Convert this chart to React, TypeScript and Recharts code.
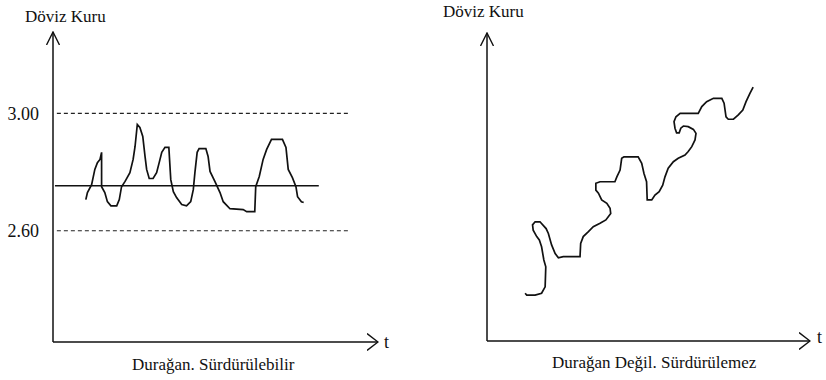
import { LineChart, Line, XAxis, YAxis, ReferenceLine, Label } from 'recharts';

// left panel: stationary rate oscillating around its mean
const stableT = [
  10.2, 10.7, 12.0, 13.0, 13.8, 14.6, 15.1, 15.1, 16.1, 16.9, 18.0, 19.8, 20.6, 21.3, 22.4, 23.9,
  24.9, 25.5, 26.2, 27.0, 27.9, 28.6, 29.1, 29.9, 31.1, 32.2, 33.0, 33.8, 34.8, 36.0, 36.6, 37.4,
  38.4, 40.0, 41.5, 42.8, 43.6, 44.1, 44.8, 45.4, 47.5, 48.2, 48.8, 50.3, 51.9, 52.9, 55.0, 59.1,
  60.2, 62.7, 63.0, 64.1, 65.3, 66.4, 67.9, 71.3, 72.4, 73.1, 74.4, 75.5, 76.0, 77.2, 77.9,
];
const stableRate = [
  2.706, 2.73, 2.757, 2.809, 2.832, 2.843, 2.867, 2.75, 2.73, 2.699, 2.685, 2.685, 2.706, 2.75,
  2.768, 2.798, 2.843, 2.887, 2.962, 2.952, 2.921, 2.853, 2.809, 2.778, 2.778, 2.798, 2.832, 2.867,
  2.884, 2.884, 2.774, 2.733, 2.713, 2.689, 2.685, 2.699, 2.74, 2.798, 2.867, 2.88, 2.88, 2.853,
  2.802, 2.768, 2.73, 2.699, 2.675, 2.672, 2.665, 2.665, 2.75, 2.785, 2.843, 2.877, 2.911, 2.911,
  2.884, 2.809, 2.781, 2.75, 2.716, 2.699, 2.696,
];

// right panel: non-stationary rate drifting upward
const unstableT = [
  11.8, 12.3, 14.9, 16.9, 18.0, 18.2, 17.6, 16.9, 16.2, 15.4, 14.3, 14.1, 14.9, 16.4, 18.3, 19.0,
  20.0, 21.1, 22.1, 23.6, 28.8, 29.0, 29.8, 31.4, 32.9, 35.0, 36.8, 38.3, 38.1, 37.1, 35.5, 34.5,
  33.7, 33.7, 35.0, 39.6, 40.2, 41.2, 41.7, 42.4, 46.8, 47.9, 48.6, 49.4, 49.6, 51.0, 52.0, 53.3,
  54.4, 55.1, 56.1, 57.7, 59.2, 61.3, 62.3, 63.4, 64.4, 64.7, 63.9, 62.3, 60.8, 60.0, 59.5, 58.7,
  58.2, 57.9, 58.5, 59.8, 65.4, 66.5, 68.0, 70.1, 72.7, 73.4, 74.0, 74.7, 76.3, 77.8, 79.2, 80.2,
  81.4, 82.4,
];
const unstableRate = [
  15.5, 14.9, 14.9, 15.5, 17.6, 24.1, 26.3, 30.6, 32.8, 33.9, 36.0, 37.7, 38.7, 38.7, 36.5, 34.9,
  31.2, 28.4, 27.0, 27.4, 27.4, 31.7, 33.9, 35.5, 37.1, 38.2, 39.3, 41.4, 43.1, 44.7, 45.8, 48.0,
  49.0, 51.2, 51.7, 51.7, 53.3, 55.5, 59.3, 59.8, 59.8, 57.7, 54.4, 51.7, 45.8, 45.8, 47.4, 48.5,
  50.6, 53.3, 56.1, 58.2, 59.3, 60.4, 61.5, 63.1, 65.3, 67.4, 68.7, 69.6, 69.8, 69.1, 67.6, 67.6,
  69.1, 71.2, 72.8, 73.9, 73.9, 76.1, 77.7, 78.8, 78.8, 77.2, 72.8, 72.0, 72.0, 73.4, 75.0, 77.7,
  80.4, 82.4,
];

const rateTicks = [3.0, 2.6];
const bandLevels = [3.0, 2.6];
const bandRange = [1.2, 92];
const meanRate = 2.753;
const meanRange = [0.6, 82.6];

const stableData = stableT.map((t, i) => ({ t, rate: stableRate[i] }));
const unstableData = unstableT.map((t, i) => ({ t, rate: unstableRate[i] }));

const ink = '#111';
const serif = '"Liberation Serif", "Times New Roman", serif';

const axisStyle = (withArrowUp: boolean) => ({
  stroke: ink,
  strokeWidth: 1.5,
  ...(withArrowUp ? { markerStart: 'url(#arrowUp)' } : { markerEnd: 'url(#arrowRight)' }),
});

const textAt = (left: number, top: number) => ({
  position: 'absolute' as const,
  left,
  top,
  fontFamily: serif,
  fontSize: 17,
  lineHeight: '17px',
  color: ink,
  whiteSpace: 'nowrap' as const,
});

export default function App() {
  return (
    <div style={{ position: 'relative', width: 826, height: 380, background: '#fff' }}>
      <style>{'body{margin:0}'}</style>
      <svg width={0} height={0} style={{ position: 'absolute' }}>
        <defs>
          <marker id="arrowUp" viewBox="0 0 14 14" refX={13} refY={7} markerWidth={14} markerHeight={14}
            markerUnits="userSpaceOnUse" orient="auto-start-reverse">
            <path d="M0,0.5 L13,7 L0,13.5" fill="none" stroke={ink} strokeWidth={1.4} />
          </marker>
          <marker id="arrowRight" viewBox="0 0 12 18" refX={11} refY={9} markerWidth={12} markerHeight={18}
            markerUnits="userSpaceOnUse" orient="auto">
            <path d="M0,0.5 L11,9 L0,17.5" fill="none" stroke={ink} strokeWidth={1.4} />
          </marker>
        </defs>
      </svg>

      <div style={{ position: 'absolute', left: 0, top: 0 }}>
        <LineChart width={420} height={380} data={stableData}
          margin={{ top: 32, right: 42, bottom: 8, left: 0 }}>
          <XAxis dataKey="t" type="number" domain={[0, 101]} height={30} tick={false} tickLine={false}
            axisLine={axisStyle(false)}>
            <Label value="t" position="insideTopRight" offset={0} dx={11} dy={-7}
              style={{ fontFamily: serif, fontSize: 18, fill: ink }} />
          </XAxis>
          <YAxis type="number" domain={[2.221, 3.277]} ticks={rateTicks} width={53} tickLine={false}
            tickMargin={8} tickFormatter={(v: number) => v.toFixed(2)}
            tick={{ fontFamily: serif, fontSize: 18, fill: ink }} axisLine={axisStyle(true)} />
          {bandLevels.map((lvl) => (
            <ReferenceLine key={lvl} segment={[{ x: bandRange[0], y: lvl }, { x: bandRange[1], y: lvl }]}
              stroke="#222" strokeWidth={1.2} strokeDasharray="4 3" />
          ))}
          <ReferenceLine segment={[{ x: meanRange[0], y: meanRate }, { x: meanRange[1], y: meanRate }]}
            stroke={ink} strokeWidth={1.5} />
          <Line type="linear" dataKey="rate" stroke={ink} strokeWidth={1.7} dot={false}
            isAnimationActive={false} />
        </LineChart>
      </div>

      <div style={{ position: 'absolute', left: 420, top: 0 }}>
        <LineChart width={406} height={380} data={unstableData}
          margin={{ top: 33, right: 16, bottom: 9, left: 0 }}>
          <XAxis dataKey="t" type="number" domain={[0, 100]} height={30} tick={false} tickLine={false}
            axisLine={axisStyle(false)}>
            <Label value="t" position="insideTopRight" offset={0} dx={12} dy={-11}
              style={{ fontFamily: serif, fontSize: 18, fill: ink }} />
          </XAxis>
          <YAxis type="number" domain={[0, 100]} width={67} tick={false} tickLine={false}
            axisLine={axisStyle(true)} />
          <Line type="linear" dataKey="rate" stroke={ink} strokeWidth={1.7} dot={false}
            isAnimationActive={false} />
        </LineChart>
      </div>

      <div style={textAt(25, 7.5)}>Döviz Kuru</div>
      <div style={textAt(443, 3)}>Döviz Kuru</div>
      <div style={textAt(132, 356)}>Durağan. Sürdürülebilir</div>
      <div style={textAt(552, 354)}>Durağan Değil. Sürdürülemez</div>
    </div>
  );
}
